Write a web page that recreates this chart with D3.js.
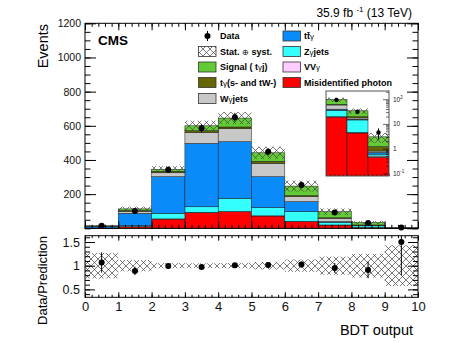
<html><head>
<script src="https://d3js.org/d3.v7.min.js"></script>
<style>
  body { margin: 0; background: #fff; }
  text { font-family: "Liberation Sans", Arial, Helvetica, sans-serif; }
  .tick text { font-family: "Liberation Sans", Arial, Helvetica, sans-serif; fill: #111; }
  .tick line { stroke: #000; }
  .domain { stroke: none; }
</style>
</head>
<body>
<svg id="chart" width="457" height="343"></svg>
<script>

// bins of the BDT output (lower edges), 10 bins from 0 to 10
const binEdges = [0, 1, 2, 3, 4, 5, 6, 7, 8, 9];

// stacked backgrounds + signal, bottom to top
const misID    = [0.5, 10, 54, 91, 97, 72, 40, 19, 4.3, 0.45];
const vvGamma  = [0.05, 0.5, 1, 2, 2, 1, 1, 0.5, 0.2, 0.05];
const zGamma   = [0.5, 5, 33, 33, 76, 48, 56, 16, 10, 0.1];
const ttGamma  = [10, 72, 214, 371, 332, 181, 59, 4, 1, 0.1];
const wGamma   = [1.5, 12, 23, 64, 76, 78, 29, 19, 2, 0.1];
const tGammaSt = [0.5, 4, 8, 10, 10, 12, 6, 3, 2, 0.4];
const signal   = [1, 10, 12, 29, 52, 50, 56, 36, 14.5, 1.8];

// observed data and its error
const dataCounts = [15, 101, 343, 585, 650, 448, 253, 93, 31, 4.5];
const dataErr    = [3, 10, 19, 24, 26, 21, 16, 10, 6, 2.1];

// relative stat+syst uncertainty of the prediction
const uncRel = [0.27, 0.12, 0.055, 0.05, 0.055, 0.08, 0.13, 0.19, 0.25, 0.43];

// ticks
const yTicks = [200, 400, 600, 800, 1000, 1200];
const ratioTicks = [0.5, 1, 1.5];
const xTicks = [0, 1, 2, 3, 4, 5, 6, 7, 8, 9, 10];

const names  = ["misID", "vvGamma", "zGamma", "ttGamma", "wGamma", "tGammaSt", "signal"];
const colors = { misID: "#ff0000", vvGamma: "#ffccff", zGamma: "#33ffff", ttGamma: "#0a8bfa",
                 wGamma: "#c8c8c8", tGammaSt: "#666600", signal: "#62cb36" };

const table = binEdges.map((b, i) => ({
  bin: b, misID: misID[i], vvGamma: vvGamma[i], zGamma: zGamma[i], ttGamma: ttGamma[i],
  wGamma: wGamma[i], tGammaSt: tGammaSt[i], signal: signal[i]
}));
const stacked = d3.stack().keys(names)(table);
const totals = table.map(d => d3.sum(names, k => d[k]));

const svg = d3.select("#chart");

// hatch for the uncertainty band
const defs = svg.append("defs");
const pat = defs.append("pattern").attr("id", "hatch").attr("patternUnits", "userSpaceOnUse")
  .attr("width", 7).attr("height", 7);
pat.append("path").attr("d", "M0,0L7,7M0,7L7,0M-1,1L1,-1M6,8L8,6")
  .attr("stroke", "#444").attr("stroke-width", 0.7).attr("fill", "none");

// scales
const x = d3.scaleLinear().domain([0, 10]).range([85, 418]);
const y = d3.scaleLinear().domain([0, 1200]).range([228.3, 23.3]);
const ry = d3.scaleLinear().domain([0.333, 1.633]).range([297.3, 235.7]);
const ix = d3.scaleLinear().domain([7, 10]).range([326, 389]);
const iy = d3.scaleLog().domain([0.078, 215]).range([176, 91]);

defs.append("clipPath").attr("id", "ratioClip").append("rect")
  .attr("x", x(0)).attr("y", ry(1.633)).attr("width", x(10) - x(0)).attr("height", ry(0.333) - ry(1.633));
defs.append("clipPath").attr("id", "insetClip").append("rect")
  .attr("x", ix(7)).attr("y", iy(215)).attr("width", ix(10) - ix(7)).attr("height", iy(0.078) - iy(215));

// ---------- main panel ----------
const main = svg.append("g");
stacked.forEach(s => {
  main.append("g").selectAll("rect").data(s).join("rect")
    .attr("x", d => x(d.data.bin))
    .attr("width", d => x(d.data.bin + 1) - x(d.data.bin))
    .attr("y", d => y(d[1]))
    .attr("height", d => Math.max(0, y(d[0]) - y(d[1])))
    .attr("fill", colors[s.key])
    .attr("stroke", "#1a1a1a").attr("stroke-width", 0.5);
});

main.append("g").selectAll("rect").data(binEdges).join("rect")
  .attr("x", b => x(b)).attr("width", b => x(b + 1) - x(b))
  .attr("y", (b, i) => y(totals[i] * (1 + uncRel[i])))
  .attr("height", (b, i) => y(totals[i] * (1 - uncRel[i])) - y(totals[i] * (1 + uncRel[i])))
  .attr("fill", "url(#hatch)");

const pts = main.append("g");
binEdges.forEach((b, i) => {
  pts.append("line").attr("x1", x(b + 0.5)).attr("x2", x(b + 0.5))
    .attr("y1", y(dataCounts[i] - dataErr[i])).attr("y2", y(dataCounts[i] + dataErr[i]))
    .attr("stroke", "#000").attr("stroke-width", 1);
  pts.append("circle").attr("cx", x(b + 0.5)).attr("cy", y(dataCounts[i])).attr("r", 3).attr("fill", "#000");
});

// axes on all four sides, ticks pointing in
function minorVals(lo, hi, step) {
  const v = [];
  for (let t = lo; t <= hi + 1e-9; t += step) v.push(+t.toFixed(4));
  return v;
}
const mainYMinor = minorVals(0, 1200, 50);
const xMinor = minorVals(0, 10, 0.2);

svg.append("g").attr("transform", "translate(" + x(0) + ",0)")
  .call(d3.axisLeft(y).tickValues(yTicks).tickSize(-11).tickPadding(4).tickFormat(d3.format("d")))
  .style("font-size", "10.5px");
svg.append("g").attr("transform", "translate(" + x(0) + ",0)")
  .call(d3.axisLeft(y).tickValues(mainYMinor).tickSize(-5.5).tickFormat(""));
svg.append("g").attr("transform", "translate(" + x(10) + ",0)")
  .call(d3.axisRight(y).tickValues([0].concat(yTicks)).tickSize(-11).tickFormat(""));
svg.append("g").attr("transform", "translate(" + x(10) + ",0)")
  .call(d3.axisRight(y).tickValues(mainYMinor).tickSize(-5.5).tickFormat(""));
svg.append("g").attr("transform", "translate(0," + y(1200) + ")")
  .call(d3.axisTop(x).tickValues(xTicks).tickSize(-7).tickFormat(""));
svg.append("g").attr("transform", "translate(0," + y(1200) + ")")
  .call(d3.axisTop(x).tickValues(xMinor).tickSize(-3.5).tickFormat(""));
svg.append("g").attr("transform", "translate(0," + y(0) + ")")
  .call(d3.axisBottom(x).tickValues(xTicks).tickSize(-7).tickFormat(""));
svg.append("g").attr("transform", "translate(0," + y(0) + ")")
  .call(d3.axisBottom(x).tickValues(xMinor).tickSize(-3.5).tickFormat(""));

svg.append("rect").attr("x", x(0)).attr("y", y(1200)).attr("width", x(10) - x(0)).attr("height", y(0) - y(1200))
  .attr("fill", "none").attr("stroke", "#000").attr("stroke-width", 1);

// ---------- inset (log scale, last three bins) ----------
const inset = svg.append("g");
inset.append("rect").attr("x", ix(7)).attr("y", iy(215)).attr("width", ix(10) - ix(7))
  .attr("height", iy(0.078) - iy(215)).attr("fill", "#fff");
const insetBody = inset.append("g").attr("clip-path", "url(#insetClip)");
stacked.forEach(s => {
  insetBody.append("g").selectAll("rect").data(s.filter(d => d.data.bin >= 7)).join("rect")
    .attr("x", d => ix(d.data.bin))
    .attr("width", d => ix(d.data.bin + 1) - ix(d.data.bin))
    .attr("y", d => iy(Math.max(d[1], 0.05)))
    .attr("height", d => Math.max(0, iy(Math.max(d[0], 0.05)) - iy(Math.max(d[1], 0.05))))
    .attr("fill", colors[s.key])
    .attr("stroke", "#1a1a1a").attr("stroke-width", 0.5);
});
binEdges.forEach((b, i) => {
  if (b < 7) return;
  const hi = totals[i] * (1 + uncRel[i]), lo = totals[i] * (1 - uncRel[i]);
  insetBody.append("rect").attr("x", ix(b)).attr("width", ix(b + 1) - ix(b))
    .attr("y", iy(hi)).attr("height", iy(lo) - iy(hi)).attr("fill", "url(#hatch)");
  insetBody.append("line").attr("x1", ix(b + 0.5)).attr("x2", ix(b + 0.5))
    .attr("y1", iy(dataCounts[i] - dataErr[i])).attr("y2", iy(dataCounts[i] + dataErr[i]))
    .attr("stroke", "#000").attr("stroke-width", 1);
  insetBody.append("circle").attr("cx", ix(b + 0.5)).attr("cy", iy(dataCounts[i])).attr("r", 2.2).attr("fill", "#000");
});
const insetMajor = [0.1, 1, 10, 100];
const insetMinor = [];
[0.1, 1, 10, 100].forEach(d => { for (let k = 2; k <= 9; k++) if (d * k < 215) insetMinor.push(d * k); });
inset.append("g").attr("transform", "translate(" + ix(10) + ",0)")
  .call(d3.axisRight(iy).tickValues(insetMajor).tickSize(-6).tickFormat(""));
inset.append("g").attr("transform", "translate(" + ix(10) + ",0)")
  .call(d3.axisRight(iy).tickValues(insetMinor).tickSize(-3).tickFormat(""));
inset.append("g").attr("transform", "translate(0," + iy(0.078) + ")")
  .call(d3.axisBottom(ix).tickValues(minorVals(7, 10, 0.2)).tickSize(-2).tickFormat(""));
inset.selectAll(".tick line").attr("stroke-width", 0.6);
const insetLabels = [["10", "-1", 0.1], ["1", "", 1], ["10", "", 10], ["10", "2", 100]];
insetLabels.forEach(l => {
  const t = inset.append("text").attr("x", ix(10) + 4).attr("y", iy(l[2]) + 2.5)
    .style("font-size", "6.5px").attr("fill", "#222").text(l[0]);
  if (l[1]) t.append("tspan").attr("dy", -2.5).style("font-size", "4.5px").text(l[1]);
});
inset.append("rect").attr("x", ix(7)).attr("y", iy(215)).attr("width", ix(10) - ix(7))
  .attr("height", iy(0.078) - iy(215)).attr("fill", "none").attr("stroke", "#555").attr("stroke-width", 1);

// ---------- ratio panel ----------
const ratio = svg.append("g");
const ratioBody = ratio.append("g").attr("clip-path", "url(#ratioClip)");
ratioBody.selectAll("rect").data(binEdges).join("rect")
  .attr("x", b => x(b)).attr("width", b => x(b + 1) - x(b))
  .attr("y", (b, i) => ry(1 + uncRel[i]))
  .attr("height", (b, i) => ry(1 - uncRel[i]) - ry(1 + uncRel[i]))
  .attr("fill", "url(#hatch)");
binEdges.forEach((b, i) => {
  const r = dataCounts[i] / totals[i], e = dataErr[i] / totals[i];
  ratioBody.append("line").attr("x1", x(b + 0.5)).attr("x2", x(b + 0.5))
    .attr("y1", ry(r - e)).attr("y2", ry(r + e)).attr("stroke", "#000").attr("stroke-width", 1);
  ratioBody.append("circle").attr("cx", x(b + 0.5)).attr("cy", ry(r)).attr("r", 3).attr("fill", "#000");
});

const ratioMinor = minorVals(0.4, 1.6, 0.1);
svg.append("g").attr("transform", "translate(" + x(0) + ",0)")
  .call(d3.axisLeft(ry).tickValues(ratioTicks).tickSize(-10).tickPadding(5).tickFormat(d3.format("~g")))
  .style("font-size", "12.5px");
svg.append("g").attr("transform", "translate(" + x(0) + ",0)")
  .call(d3.axisLeft(ry).tickValues(ratioMinor).tickSize(-5).tickFormat(""));
svg.append("g").attr("transform", "translate(" + x(10) + ",0)")
  .call(d3.axisRight(ry).tickValues(ratioTicks).tickSize(-10).tickFormat(""));
svg.append("g").attr("transform", "translate(" + x(10) + ",0)")
  .call(d3.axisRight(ry).tickValues(ratioMinor).tickSize(-5).tickFormat(""));
svg.append("g").attr("transform", "translate(0," + ry(0.333) + ")")
  .call(d3.axisBottom(x).tickValues(xTicks).tickSize(-5).tickPadding(4).tickFormat(d3.format("d")))
  .style("font-size", "13px");
svg.append("g").attr("transform", "translate(0," + ry(0.333) + ")")
  .call(d3.axisBottom(x).tickValues(xMinor).tickSize(-2.5).tickFormat(""));
svg.append("g").attr("transform", "translate(0," + ry(1.633) + ")")
  .call(d3.axisTop(x).tickValues(xTicks).tickSize(-5).tickFormat(""));
svg.append("g").attr("transform", "translate(0," + ry(1.633) + ")")
  .call(d3.axisTop(x).tickValues(xMinor).tickSize(-2.5).tickFormat(""));
svg.append("rect").attr("x", x(0)).attr("y", ry(1.633)).attr("width", x(10) - x(0)).attr("height", ry(0.333) - ry(1.633))
  .attr("fill", "none").attr("stroke", "#000").attr("stroke-width", 1);

// ---------- labels ----------
svg.append("text").attr("transform", "translate(48,24) rotate(-90)").attr("text-anchor", "end")
  .style("font-size", "14.5px").text("Events");
svg.append("text").attr("transform", "translate(46.5,236) rotate(-90)").attr("text-anchor", "end")
  .style("font-size", "13px").text("Data/Prediction");
svg.append("text").attr("x", 413).attr("y", 335).attr("text-anchor", "end")
  .style("font-size", "14.5px").text("BDT output");
svg.append("text").attr("x", 98).attr("y", 45).style("font-size", "13.5px").style("font-weight", "bold").text("CMS");
const lumi = svg.append("text").attr("x", 412).attr("y", 17).attr("text-anchor", "end").style("font-size", "12px");
lumi.append("tspan").text("35.9 fb ");
lumi.append("tspan").attr("dy", -5).style("font-size", "8px").text("-1");
lumi.append("tspan").attr("dy", 5).text(" (13 TeV)");

// ---------- legend ----------
const legend = svg.append("g").style("font-size", "9px").style("font-weight", "bold");
const rowsY = [36, 51.5, 67, 82.5, 98.5];
const legendItems = [
  { col: 0, row: 0, type: "data", parts: [["Data", 1]] },
  { col: 0, row: 1, type: "hatch", parts: [["Stat. ", 1], ["\u2295", 0], [" syst.", 1]] },
  { col: 0, row: 2, key: "signal", parts: [["Signal ( t", 1], ["\u03b3", 0], ["j)", 1]] },
  { col: 0, row: 3, key: "tGammaSt", parts: [["t", 1], ["\u03b3", 0], ["(s- and tW-)", 1]] },
  { col: 0, row: 4, key: "wGamma", parts: [["W", 1], ["\u03b3", 0], ["jets", 1]] },
  { col: 1, row: 0, key: "ttGamma", parts: [["tt\u0304", 1], ["\u03b3", 0]] },
  { col: 1, row: 1, key: "zGamma", parts: [["Z", 1], ["\u03b3", 0], ["jets", 1]] },
  { col: 1, row: 2, key: "vvGamma", parts: [["VV", 1], ["\u03b3", 0]] },
  { col: 1, row: 3, key: "misID", parts: [["Misidentified photon", 1]] }
];
const colBox = [198.5, 283];
const colText = [220, 304];
legendItems.forEach(it => {
  const cy = rowsY[it.row], bx = colBox[it.col];
  if (it.type === "data") {
    legend.append("line").attr("x1", bx + 9).attr("x2", bx + 9).attr("y1", cy - 5).attr("y2", cy + 5)
      .attr("stroke", "#000").attr("stroke-width", 1);
    legend.append("circle").attr("cx", bx + 9).attr("cy", cy).attr("r", 3).attr("fill", "#000");
  } else {
    legend.append("rect").attr("x", bx).attr("y", cy - 5).attr("width", 17.5).attr("height", 10)
      .attr("fill", it.type === "hatch" ? "url(#hatch)" : colors[it.key])
      .attr("stroke", "#333").attr("stroke-width", 0.8);
  }
  const t = legend.append("text").attr("x", colText[it.col]).attr("y", cy + 3.3);
  it.parts.forEach(p => {
    t.append("tspan").style("font-weight", p[1] ? "bold" : "normal")
      .style("font-size", p[1] ? "9px" : "8px").text(p[0]);
  });
});

</script>
</body>
</html>
